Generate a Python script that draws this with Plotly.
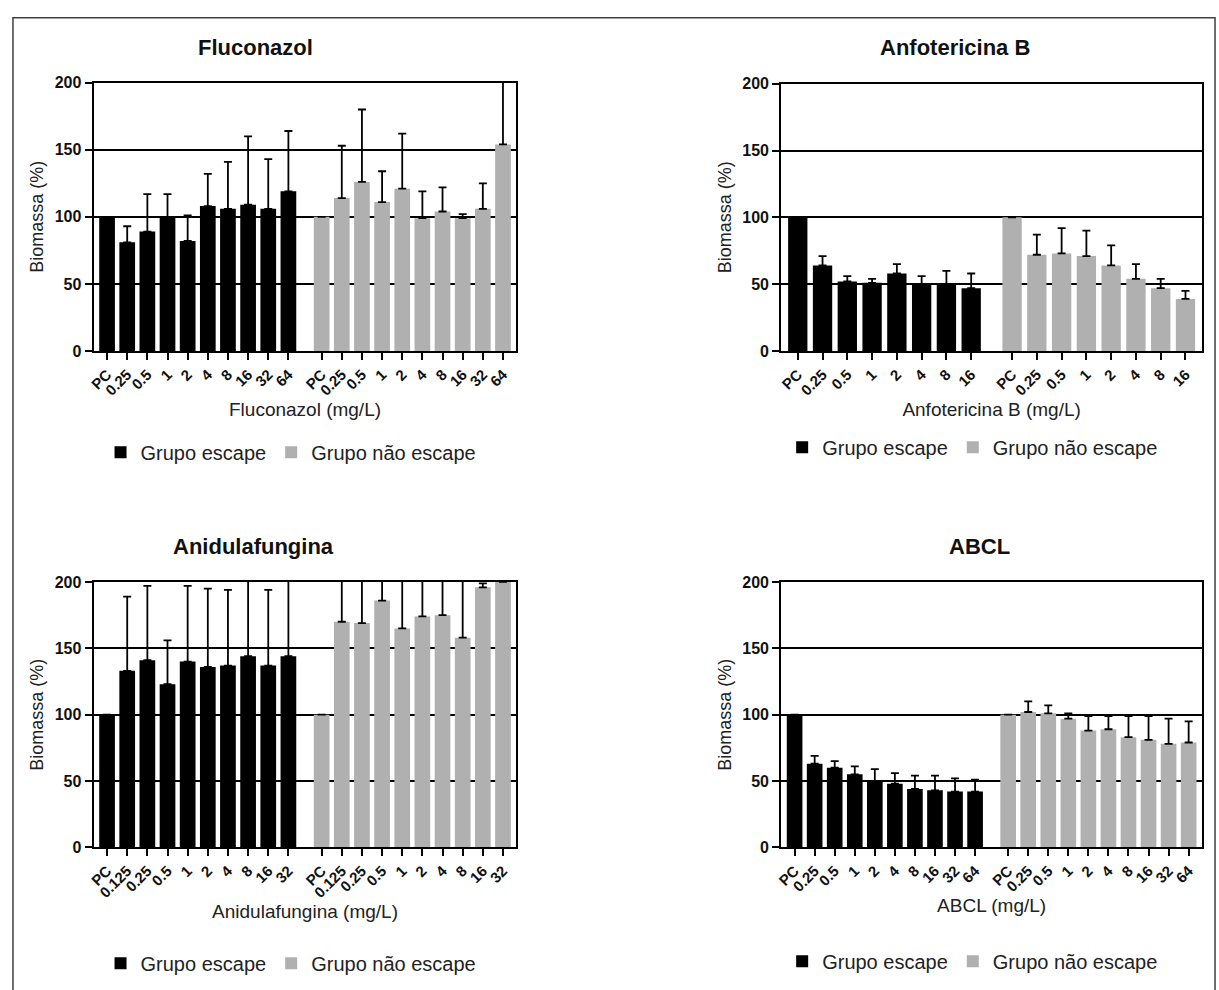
import plotly.graph_objects as go

W, H = 1219, 990

# ---------------- data ----------------
flu_cats = ["PC", "0.25", "0.5", "1", "2", "4", "8", "16", "32", "64"]
flu_esc_mean = [100, 81, 89, 100, 82, 108, 106, 109, 106, 119]
flu_esc_sd = [0, 12, 28, 17, 19, 24, 35, 51, 37, 45]
flu_nesc_mean = [100, 114, 126, 111, 121, 99, 104, 99, 106, 154]
flu_nesc_sd = [0, 39, 54, 23, 41, 20, 18, 3, 19, 60]

anf_cats = ["PC", "0.25", "0.5", "1", "2", "4", "8", "16"]
anf_esc_mean = [100, 64, 52, 51, 58, 50, 50, 47]
anf_esc_sd = [0, 7, 4, 3, 7, 6, 10, 11]
anf_nesc_mean = [100, 72, 73, 71, 64, 54, 47, 39]
anf_nesc_sd = [0, 15, 19, 19, 15, 11, 7, 6]

ani_cats = ["PC", "0.125", "0.25", "0.5", "1", "2", "4", "8", "16", "32"]
ani_esc_mean = [100, 133, 141, 123, 140, 136, 137, 144, 137, 144]
ani_esc_sd = [0, 56, 56, 33, 57, 59, 57, 70, 57, 70]
ani_nesc_mean = [100, 170, 169, 186, 165, 174, 175, 158, 196, 200]
ani_nesc_sd = [0, 60, 60, 40, 60, 50, 50, 70, 3, 20]

abcl_cats = ["PC", "0.25", "0.5", "1", "2", "4", "8", "16", "32", "64"]
abcl_esc_mean = [100, 63, 60, 55, 50, 48, 44, 43, 42, 42]
abcl_esc_sd = [0, 6, 5, 6, 9, 8, 10, 11, 10, 9]
abcl_nesc_mean = [100, 102, 101, 97, 88, 89, 83, 81, 78, 79]
abcl_nesc_sd = [0, 8, 6, 4, 11, 10, 16, 18, 19, 16]

y_ticks = [0, 50, 100, 150, 200]
series_names = ["Grupo escape", "Grupo não escape"]
series_colors = ["#000000", "#b0b0b0"]

panels = [
    dict(title="Fluconazol", xtitle="Fluconazol (mg/L)", cats=flu_cats,
         esc=(flu_esc_mean, flu_esc_sd), nesc=(flu_nesc_mean, flu_nesc_sd)),
    dict(title="Anfotericina B", xtitle="Anfotericina B (mg/L)", cats=anf_cats,
         esc=(anf_esc_mean, anf_esc_sd), nesc=(anf_nesc_mean, anf_nesc_sd)),
    dict(title="Anidulafungina", xtitle="Anidulafungina (mg/L)", cats=ani_cats,
         esc=(ani_esc_mean, ani_esc_sd), nesc=(ani_nesc_mean, ani_nesc_sd)),
    dict(title="ABCL", xtitle="ABCL (mg/L)", cats=abcl_cats,
         esc=(abcl_esc_mean, abcl_esc_sd), nesc=(abcl_nesc_mean, abcl_nesc_sd)),
]

# ---------------- layout geometry (pixels) ----------------
boxes = [  # left, right, top, bottom
    (88, 513, 76, 349),
    (779, 1202, 77, 349),
    (88, 513, 584, 854),
    (779, 1202, 584, 854),
]
title_pos = [(251, 40), (954, 40), (249, 548), (978, 548)]
legend_pos = [(95, 452), (780, 447), (95, 972), (780, 970)]
GAP = 0.65
PAD = 0.67

FONT = "Liberation Sans, Arial, sans-serif"

fig = go.Figure()
annotations = []

def px_x(v):
    return v / W

def px_y(v):
    return 1 - v / H

for k, p in enumerate(panels):
    n = len(p["cats"])
    xs_esc = list(range(n))
    xs_nesc = [n + GAP + i for i in range(n)]
    sfx = "" if k == 0 else str(k + 1)
    leg = "legend" if k == 0 else f"legend{k + 1}"
    for xs, (m, sd), name, col in [
        (xs_esc, p["esc"], series_names[0], series_colors[0]),
        (xs_nesc, p["nesc"], series_names[1], series_colors[1]),
    ]:
        fig.add_trace(go.Bar(
            x=xs, y=m, name=name, width=0.78,
            marker=dict(color=col, line=dict(width=0)),
            error_y=dict(type="data", array=sd, arrayminus=[0] * len(sd),
                         symmetric=False, color="#000000", thickness=1.8, width=4),
            xaxis="x" + sfx, yaxis="y" + sfx, legend=leg, showlegend=True,
        ))
    l, r, t, b = boxes[k]
    ax_common = dict(
        showline=True, linecolor="#000000", linewidth=2, mirror=True,
        ticks="outside", ticklen=7, tickwidth=2, tickcolor="#000000",
    )
    fig.layout["xaxis" + sfx] = dict(
        domain=[px_x(l), px_x(r)], anchor="y" + sfx,
        range=[-PAD, 2 * n - 1 + GAP + PAD],
        tickmode="array", tickvals=xs_esc + xs_nesc, ticktext=p["cats"] + p["cats"],
        tickangle=-45, tickfont=dict(family=FONT, size=15, color="#111", weight="bold"),
        showgrid=False, zeroline=False,
        title=dict(text=p["xtitle"], font=dict(family=FONT, size=19, color="#222"), standoff=4),
        **ax_common,
    )
    fig.layout["yaxis" + sfx] = dict(
        domain=[px_y(b), px_y(t)], anchor="x" + sfx,
        range=[0, 200], tickmode="array", tickvals=y_ticks,
        tickfont=dict(family=FONT, size=16, color="#111", weight="bold"),
        showgrid=True, gridcolor="#000000", gridwidth=1.6, zeroline=False,
        title=dict(text="Biomassa (%)", font=dict(family=FONT, size=18, color="#222"), standoff=6),
        **ax_common,
    )
    tx, ty = title_pos[k]
    annotations.append(dict(
        text=f"<b>{p['title']}</b>", x=px_x(tx), y=px_y(ty),
        xref="paper", yref="paper", showarrow=False, xanchor="center", yanchor="middle",
        font=dict(family=FONT, size=22, color="#111"),
    ))
    lx, ly = legend_pos[k]
    fig.layout[leg] = dict(
        orientation="h", x=px_x(lx), y=px_y(ly), xanchor="left", yanchor="middle",
        font=dict(family=FONT, size=20, color="#222"), bgcolor="rgba(0,0,0,0)",
        itemclick=False, itemdoubleclick=False, traceorder="normal",
    )

fig.update_layout(
    width=W, height=H, margin=dict(l=0, r=0, t=0, b=0),
    paper_bgcolor="#ffffff", plot_bgcolor="#ffffff",
    barmode="overlay", annotations=annotations,
    shapes=[dict(type="rect", xref="paper", yref="paper",
                 x0=px_x(7), x1=px_x(1215), y0=-0.02, y1=px_y(10),
                 line=dict(color="#404040", width=1.5), fillcolor="rgba(0,0,0,0)", layer="below")],
)

fig.write_html("out.html")
